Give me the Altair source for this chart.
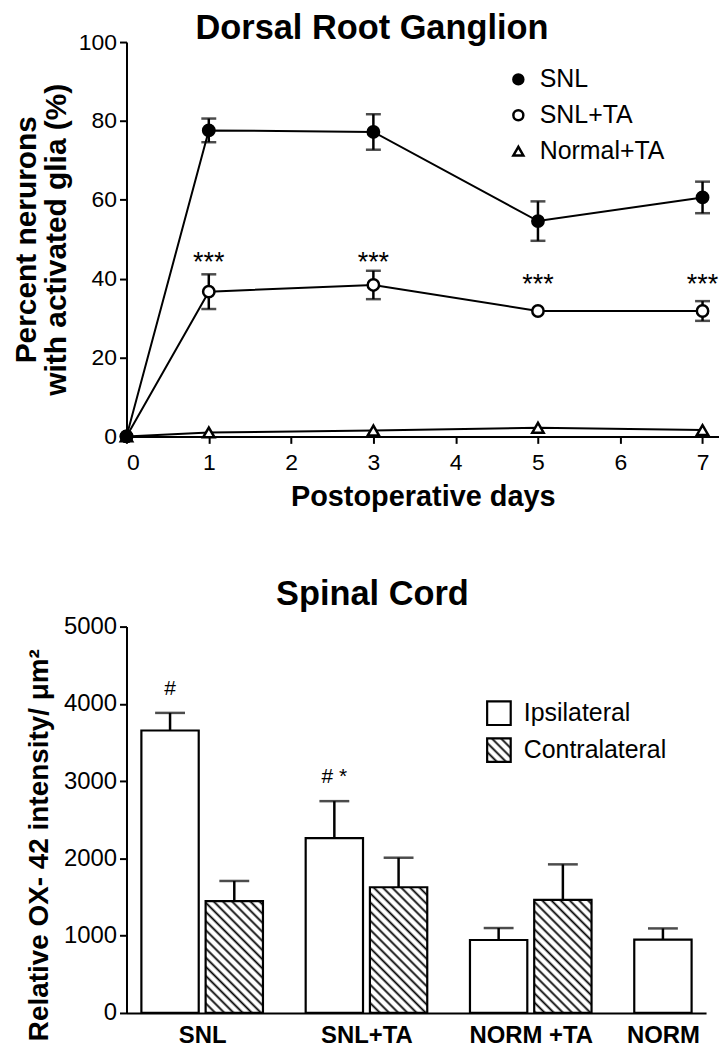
import altair as alt
import pandas as pd
import jinja2

FONT = "Liberation Sans"

# ---------------- Top chart data (Dorsal Root Ganglion) ----------------
days = [0, 1, 3, 5, 7]
series_names = ["SNL", "SNL+TA", "Normal+TA"]
snl_mean = [0, 77.6, 77.2, 54.6, 60.6]
snl_err = [0, 3.0, 4.5, 5.0, 4.0]
snlta_mean = [0, 36.7, 38.4, 31.8, 31.8]
snlta_err = [0, 4.4, 3.6, 0, 2.5]
normta_mean = [0, 1.0, 1.5, 2.2, 1.6]
normta_err = [0, 0, 0, 0, 0]
sig_days = [1, 3, 5, 7]
sig_y = [44.0, 44.0, 38.5, 38.5]
sig_label = "***"

# ---------------- Bottom chart data (Spinal Cord) ----------------
groups = ["SNL", "SNL+TA", "NORM +TA", "NORM"]
sides = ["Ipsilateral", "Contralateral"]
ipsi_mean = [3655, 2262, 944, 948]
ipsi_err = [228, 479, 155, 146]
contra_mean = [1446, 1627, 1464, None]
contra_err = [262, 382, 459, None]
ipsi_notes = ["#", "# *", "", ""]

# ---------------- build tables ----------------
rows = []
for name, means, errs in zip(series_names, [snl_mean, snlta_mean, normta_mean],
                             [snl_err, snlta_err, normta_err]):
    for d, m, e in zip(days, means, errs):
        rows.append(dict(series=name, day=d, mean=m, lo=m - e, hi=m + e, err=e))
df_top = pd.DataFrame(rows)
df_sig = pd.DataFrame(dict(day=sig_days, y=sig_y, label=[sig_label] * len(sig_days)))

BAR_W = 0.349
HALF_GAP = 0.021
rows_b = []
for gi, g in enumerate(groups):
    for side, means, errs in [("Ipsilateral", ipsi_mean, ipsi_err),
                              ("Contralateral", contra_mean, contra_err)]:
        m = means[gi]
        if m is None:
            continue
        x0 = gi - HALF_GAP - BAR_W if side == "Ipsilateral" else gi + HALF_GAP
        rows_b.append(dict(group=g, side=side, mean=m, top=m + errs[gi],
                           x0=x0, x1=x0 + BAR_W, xc=x0 + BAR_W / 2,
                           note=ipsi_notes[gi] if side == "Ipsilateral" else ""))
df_bot = pd.DataFrame(rows_b)

# label positions: centre of the pair, or centre of the single bar
label_pos = []
for gi, g in enumerate(groups):
    if contra_mean[gi] is None:
        label_pos.append(round(gi - HALF_GAP - BAR_W / 2, 4))
    else:
        label_pos.append(gi)
label_expr = ""
for gi, g in enumerate(groups[:-1]):
    label_expr += f"datum.value < {gi + 0.5} ? '{g}' : "
label_expr += f"'{groups[-1]}'"

# ---------------- top chart ----------------
x_top = alt.X("day:Q", scale=alt.Scale(domain=[0, 7.2], nice=False, zero=False),
              axis=alt.Axis(values=list(range(8)), format="d", title="Postoperative days",
                            labelFontSize=23, titleFontSize=29, titleFontWeight="bold",
                            titlePadding=8, labelPadding=8))
y_top = alt.Y("mean:Q", scale=alt.Scale(domain=[0, 100], nice=False),
              axis=alt.Axis(values=[0, 20, 40, 60, 80, 100], format="d",
                            title=["Percent nerurons", "with activated glia (%)"],
                            labelFontSize=23, titleFontSize=30, titleFontWeight="bold",
                            titleLineHeight=30, titlePadding=7, labelPadding=3))

base = alt.Chart(df_top)
lines = base.mark_line(color="black", strokeWidth=2).encode(x=x_top, y=y_top, detail="series:N")
eb = base.transform_filter("datum.err > 0")
err_rule = eb.mark_rule(color="black", strokeWidth=2.5).encode(x="day:Q", y="lo:Q", y2="hi:Q")
cap_lo = eb.mark_tick(orient="horizontal", size=15, thickness=2.5, color="black").encode(x="day:Q", y="lo:Q")
cap_hi = eb.mark_tick(orient="horizontal", size=15, thickness=2.5, color="black").encode(x="day:Q", y="hi:Q")

top_legend = alt.Legend(title=None, orient="none", legendX=381, legendY=25,
                        labelFontSize=25, labelFont=FONT, symbolSize=100,
                        symbolStrokeWidth=2.5,
                        rowPadding=10, labelOffset=9, padding=0)
points = base.mark_point(filled=True, size=130, strokeWidth=2.5, opacity=1).encode(
    x="day:Q", y="mean:Q",
    shape=alt.Shape("series:N", scale=alt.Scale(domain=series_names,
                                                range=["circle", "circle", "triangle-up"]),
                    legend=top_legend, sort=series_names),
    fill=alt.Fill("series:N", scale=alt.Scale(domain=series_names,
                                              range=["black", "white", "white"]),
                  legend=top_legend, sort=series_names),
    stroke=alt.Stroke("series:N", scale=alt.Scale(domain=series_names,
                                                  range=["black", "black", "black"]),
                      legend=top_legend, sort=series_names),
    order=alt.Order("ord:Q"),
).transform_calculate(ord="datum.series == 'SNL' ? 2 : datum.series == 'SNL+TA' ? 1 : 0")

stars = alt.Chart(df_sig).mark_text(fontSize=27, font=FONT, color="black", baseline="middle").encode(
    x="day:Q", y="y:Q", text="label:N")

top = alt.layer(lines, err_rule, cap_lo, cap_hi, points, stars).properties(
    width=595, height=396,
    title=alt.TitleParams("Dorsal Root Ganglion", fontSize=34.5, fontWeight="bold",
                          font=FONT, color="black", offset=-15, dx=-51),
)

# ---------------- bottom chart ----------------
x_bot = alt.X("x0:Q", scale=alt.Scale(domain=[-0.4606, 3.067], nice=False, zero=False),
              axis=alt.Axis(values=label_pos, labelExpr=label_expr, ticks=False,
                            title=None, labelFontSize=24, labelFontWeight="bold",
                            labelPadding=11))
y_bot = alt.Y("mean:Q", scale=alt.Scale(domain=[0, 5000], nice=False),
              axis=alt.Axis(values=[0, 1000, 2000, 3000, 4000, 5000], format="d",
                            title="Relative OX- 42 intensity/ μm²",
                            labelFontSize=24, titleFontSize=28, titleFontWeight="bold",
                            titlePadding=10, labelPadding=3, tickSize=7, titleY=219))

bbase = alt.Chart(df_bot)
bars = bbase.mark_bar(stroke="black", strokeWidth=2.2).encode(
    x=x_bot, x2="x1:Q", y=y_bot, y2=alt.datum(0),
    fill=alt.Fill("side:N", scale=alt.Scale(domain=sides, range=["white", "url(#hatch)"]),
                  sort=sides,
                  legend=alt.Legend(title=None, orient="none", legendX=361, legendY=74,
                                    symbolType="square", symbolSize=560,
                                    symbolStrokeColor="black", symbolStrokeWidth=2.2,
                                    labelFontSize=25, labelFont=FONT, rowPadding=3,
                                    labelOffset=12, padding=0)),
)
berr = bbase.mark_rule(color="black", strokeWidth=2.5).encode(x="xc:Q", y="mean:Q", y2="top:Q")
bcap = bbase.mark_tick(orient="horizontal", size=30, thickness=2.5, color="black").encode(
    x="xc:Q", y="top:Q")
notes = bbase.transform_filter("datum.note != ''").mark_text(
    fontSize=21, font=FONT, color="black", baseline="middle", dy=-24).encode(
    x="xc:Q", y="top:Q", text="note:N")

bottom = alt.layer(bars, berr, bcap, notes).properties(
    width=582, height=388,
    title=alt.TitleParams("Spinal Cord", fontSize=34.5, fontWeight="bold",
                          font=FONT, color="black", offset=2, dx=-44),
)

chart = alt.vconcat(top, bottom, spacing=66).resolve_scale(
    fill="independent", shape="independent", stroke="independent"
).resolve_legend(
    fill="independent", shape="independent", stroke="independent"
).properties(
    padding={"left": 3, "top": 0, "right": 0, "bottom": 0}
).configure_view(strokeWidth=0).configure_axis(
    domainColor="black", domainWidth=2, tickColor="black", tickWidth=2, tickSize=7,
    labelColor="black", titleColor="black", labelFont=FONT, titleFont=FONT, grid=False,
).configure_text(font=FONT)

PATTERN_SVG = """
<svg width="0" height="0" style="position:absolute">
  <defs>
    <pattern id="hatch" patternUnits="userSpaceOnUse" width="6.5" height="6.5" patternTransform="rotate(-45)">
      <rect x="0" y="0" width="6.5" height="6.5" fill="white"></rect>
      <line x1="3.25" y1="-1" x2="3.25" y2="7.5" stroke="black" stroke-width="1.8"></line>
    </pattern>
  </defs>
</svg>
"""

HTML_TEMPLATE = jinja2.Template("""<!DOCTYPE html>
<html>
<head>
  <meta charset="utf-8">
  <style>
    #{{ output_div }}.vega-embed { width: 100%; display: flex; }
    #{{ output_div }}.vega-embed details, #{{ output_div }}.vega-embed details summary { position: relative; }
  </style>
  <script type="text/javascript" src="{{ base_url }}/vega@{{ vega_version }}"></script>
  <script type="text/javascript" src="{{ base_url }}/vega-lite@{{ vegalite_version }}"></script>
  <script type="text/javascript" src="{{ base_url }}/vega-embed@{{ vegaembed_version }}"></script>
</head>
<body>
""" + PATTERN_SVG + """
  <div id="{{ output_div }}"></div>
  <script type="text/javascript">
    (function(vegaEmbed) {
      var spec = {{ spec }};
      var embedOpt = {{ embed_options }};
      function showError(el, error){
          el.innerHTML = ('<div style="color:red;"><p>JavaScript Error: ' + error.message + '</p></div>');
          throw error;
      }
      const el = document.getElementById('{{ output_div }}');
      vegaEmbed("#{{ output_div }}", spec, embedOpt)
        .catch(error => showError(el, error));
    })(vegaEmbed);
  </script>
</body>
</html>""")

try:
    chart.save("out.html", embed_options={"renderer": "svg", "actions": False},
               template=HTML_TEMPLATE)
except Exception:
    chart.save("out.html", embed_options={"renderer": "svg", "actions": False})
    with open("out.html", encoding="utf-8") as f:
        html = f.read()
    html = html.replace("<body>", "<body>\n" + PATTERN_SVG, 1)
    with open("out.html", "w", encoding="utf-8") as f:
        f.write(html)
